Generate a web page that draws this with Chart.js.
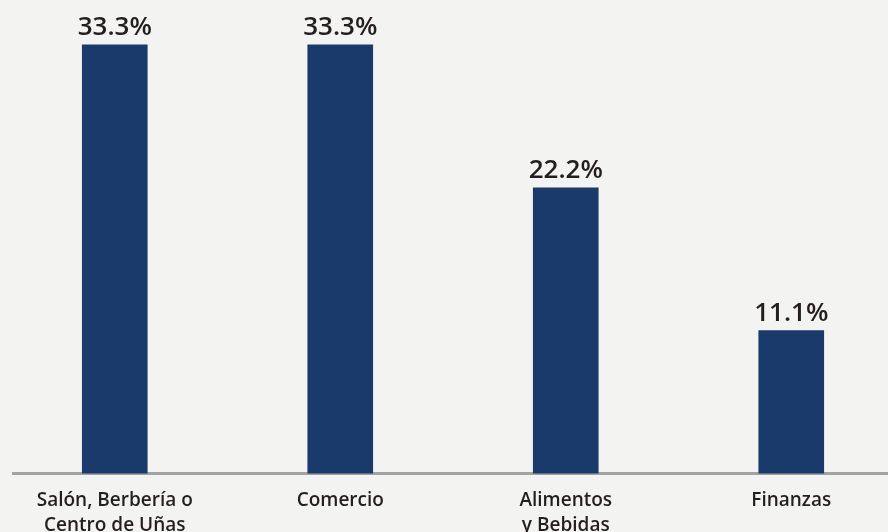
<!DOCTYPE html>
<html>
<head>
<meta charset="utf-8">
<script src="https://cdn.jsdelivr.net/npm/chart.js@4.4.1/dist/chart.umd.min.js"></script>
<style>
  html, body { margin: 0; padding: 0; background: #f3f3f2; overflow: hidden; }
  #wrap { position: absolute; left: 0; top: 0; width: 904px; height: 545px; }
</style>
</head>
<body>
<div id="wrap"><canvas id="c"></canvas></div>
<script>
// data
const categories = [
  ['Salón, Berbería o', 'Centro de Uñas'],
  'Comercio',
  ['Alimentos', 'y Bebidas'],
  'Finanzas'
];
const shares = [33.3, 33.3, 22.2, 11.1];

const barColor = '#1b3a6c';
const inkColor = '#231f20';
const fontFamily = '"Open Sans", "Noto Sans", sans-serif';

// percent labels above each bar (no datalabels plugin available offline)
const valueLabels = {
  id: 'valueLabels',
  afterDatasetsDraw (chart) {
    const { ctx } = chart;
    const meta = chart.getDatasetMeta(0);
    ctx.save();
    ctx.fillStyle = inkColor;
    ctx.font = `600 26px ${fontFamily}`;
    ctx.textAlign = 'center';
    ctx.textBaseline = 'alphabetic';
    meta.data.forEach((bar, i) => {
      ctx.fillText(shares[i].toFixed(1) + '%', bar.x, bar.y - 10);
    });
    ctx.restore();
  }
};

// grey baseline running past the bars
const baseLine = {
  id: 'baseLine',
  beforeDatasetsDraw (chart) {
    const { ctx } = chart;
    const y = chart.scales.y.getPixelForValue(0);
    ctx.save();
    ctx.strokeStyle = '#a3a3a3';
    ctx.lineWidth = 3;
    ctx.beginPath();
    ctx.moveTo(12, y);
    ctx.lineTo(chart.width, y);
    ctx.stroke();
    ctx.restore();
  }
};

new Chart(document.getElementById('c'), {
  type: 'bar',
  data: {
    labels: categories,
    datasets: [{
      data: shares,
      backgroundColor: barColor,
      borderWidth: 0,
      barThickness: 65
    }]
  },
  options: {
    responsive: true,
    maintainAspectRatio: false,
    animation: false,
    layout: { padding: { left: 2, right: 0, top: 10, bottom: 0 } },
    plugins: { legend: { display: false }, tooltip: { enabled: false } },
    scales: {
      x: {
        grid: { display: false },
        border: { display: false },
        ticks: {
          color: inkColor,
          padding: 7,
          maxRotation: 0,
          autoSkip: false,
          font: { family: fontFamily, size: 19, weight: '600', lineHeight: 1.3 }
        }
      },
      y: {
        display: false,
        min: 0,
        max: 36
      }
    }
  },
  plugins: [baseLine, valueLabels]
});
</script>
</body>
</html>
